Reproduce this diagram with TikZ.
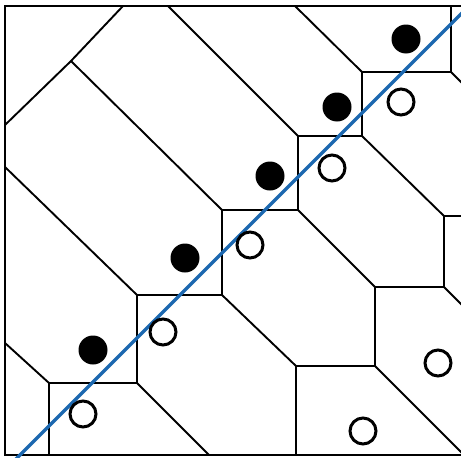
\documentclass[tikz,border=0pt]{standalone}
\definecolor{fitblue}{RGB}{28,104,176}
\begin{document}
\begin{tikzpicture}[x=1pt,y=-1pt,
  edge/.style={line width=1.9pt, line join=miter},
  fitline/.style={line width=3.4pt, draw=fitblue},
  filleddot/.style={circle, fill=black, inner sep=0pt, minimum size=29pt},
  hollowdot/.style={circle, draw=black, fill=white, line width=3pt, inner sep=0pt, minimum size=26pt}]
\useasboundingbox (0,0) rectangle (461,458);
\clip (0,0) rectangle (461,458);
% frame
\draw[edge] (470,6) -- (5,6) -- (5,455) -- (470,455);
% staircase (upper)
\coordinate (P0) at (451,6);
\coordinate (P1) at (451,72);
\coordinate (P2) at (362,72);
\coordinate (P3) at (362,136);
\coordinate (P4) at (298,136);
\coordinate (P5) at (298,210);
\coordinate (P6) at (222,210);
\coordinate (P7) at (222,295);
\coordinate (P8) at (137,295);
\coordinate (P9) at (137,383);
\coordinate (P10) at (49,383);
\coordinate (P11) at (49,455);
\draw[edge] (P0) -- (P1) -- (P2) -- (P3) -- (P4) -- (P5) -- (P6) -- (P7) -- (P8) -- (P9) -- (P10) -- (P11);
% staircase (lower)
\coordinate (Q0) at (470,216);
\coordinate (Q1) at (444,216);
\coordinate (Q2) at (444,287);
\coordinate (Q3) at (375,287);
\coordinate (Q4) at (375,366);
\coordinate (Q5) at (296,366);
\coordinate (Q6) at (296,455);
\draw[edge] (Q0) -- (Q1) -- (Q2) -- (Q3) -- (Q4) -- (Q5) -- (Q6);
% diagonals
\coordinate (J) at (71,61);
\draw[edge] (123,6) -- (J) -- (5,125);
\draw[edge] (J) -- (P6);
\draw[edge] (168,6) -- (P4);
\draw[edge] (295,6) -- (P2);
\draw[edge] (5,167) -- (P8);
\draw[edge] (5,343) -- (P10);
\draw[edge] (P1) -- (470,91);
\draw[edge] (P3) -- (Q1);
\draw[edge] (P5) -- (Q3);
\draw[edge] (P7) -- (Q5);
\draw[edge] (P9) -- (209,455);
\draw[edge] (Q2) -- (470,313);
\draw[edge] (Q4) -- (465,456);
% fitted line
\draw[fitline] (490,-15) -- (10,465);
% points
\foreach \n/\x/\y in {f1/406/39, f2/337/107, f3/270/176, f4/185/258, f5/93/350}
  \node[filleddot] (\n) at (\x,\y) {};
\foreach \n/\x/\y in {h1/401/102, h2/332/168, h3/250/245, h4/163/332, h5/83/414, h6/438/363, h7/363/431}
  \node[hollowdot] (\n) at (\x,\y) {};
\end{tikzpicture}
\end{document}
